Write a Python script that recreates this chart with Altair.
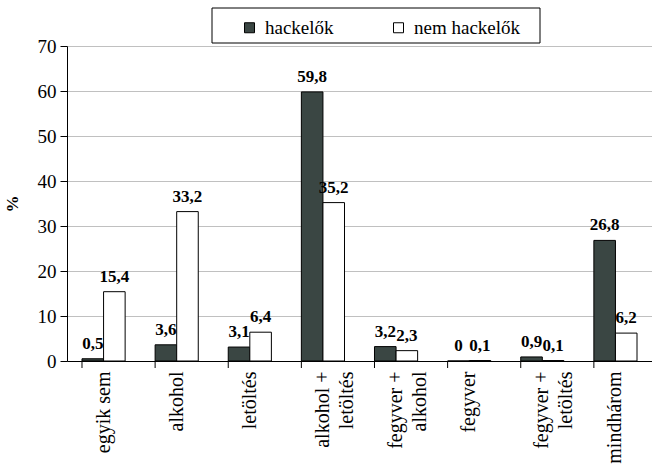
import altair as alt
import pandas as pd

# Categories (multi-line labels split on "\n")
categories = [
    "egyik sem",
    "alkohol",
    "letöltés",
    "alkohol +\nletöltés",
    "fegyver +\nalkohol",
    "fegyver",
    "fegyver +\nletöltés",
    "mindhárom",
]
series_names = ["hackelők", "nem hackelők"]
hackelok = [0.5, 3.6, 3.1, 59.8, 3.2, 0.0, 0.9, 26.8]
nem_hackelok = [15.4, 33.2, 6.4, 35.2, 2.3, 0.1, 0.1, 6.2]
y_ticks = [0, 10, 20, 30, 40, 50, 60, 70]

rows = []
for cat, a, b in zip(categories, hackelok, nem_hackelok):
    rows.append({"cat": cat, "group": series_names[0], "value": a})
    rows.append({"cat": cat, "group": series_names[1], "value": b})
df = pd.DataFrame(rows)
cat_df = pd.DataFrame({"cat": categories})

SERIF = "Liberation Serif"
DARK = "#3a4643"

x_enc = alt.X(
    "cat:N",
    sort=categories,
    scale=alt.Scale(paddingInner=0.41, paddingOuter=0.205),
    axis=alt.Axis(
        title=None,
        labelAngle=-90,
        labelAlign="right",
        labelBaseline="middle",
        labelFont=SERIF,
        labelFontSize=20,
        labelColor="black",
        labelPadding=10,
        labelExpr="split(datum.label, '\\n')",
        labelLineHeight=24,
        ticks=False,
        domainColor="black",
        domainWidth=1,
        grid=False,
    ),
)
y_enc = alt.Y(
    "value:Q",
    scale=alt.Scale(domain=[0, 70], nice=False),
    axis=alt.Axis(
        title="%",
        titleFont=SERIF,
        titleFontSize=17,
        titleFontWeight="bold",
        titleColor="black",
        titlePadding=16,
        values=y_ticks,
        labelFont=SERIF,
        labelFontSize=19,
        labelColor="black",
        labelPadding=4,
        tickColor="black",
        tickSize=7,
        domainColor="black",
        gridColor="#c0c0c0",
        gridWidth=1,
    ),
)
color_enc = alt.Color(
    "group:N",
    scale=alt.Scale(domain=series_names, range=[DARK, "white"]),
    legend=alt.Legend(
        title=None,
        orient="none",
        legendX=173,
        legendY=-28,
        direction="horizontal",
        symbolType="square",
        symbolSize=100,
        symbolStrokeColor="black",
        symbolStrokeWidth=1,
        labelFont=SERIF,
        labelFontSize=19,
        labelColor="black",
        labelOffset=6,
        columnPadding=55,
        padding=0,
    ),
)
offset_enc = alt.XOffset("group:N", sort=series_names, scale=alt.Scale(paddingInner=0, paddingOuter=0))

bars = alt.Chart(df).mark_bar(stroke="black", strokeWidth=1).encode(
    x=x_enc, y=y_enc, color=color_enc, xOffset=offset_enc
)

labels = alt.Chart(df).transform_calculate(
    label="replace(format(datum.value, '.1~f'), '.', ',')"
).mark_text(
    font=SERIF, fontSize=17, fontWeight="bold", color="black",
    baseline="alphabetic", dy=-10
).encode(
    x=alt.X("cat:N", sort=categories), y="value:Q", xOffset=offset_enc, text="label:N"
)

# category boundary ticks below the x axis
ticks = alt.Chart(cat_df).mark_rule(color="black", strokeWidth=1).encode(
    x=alt.X("cat:N", sort=categories, bandPosition=0),
    y=alt.value(315),
    y2=alt.value(322),
)

# frame around the legend
frame = alt.Chart(pd.DataFrame({"k": [0]})).mark_rect(
    fill="white", fillOpacity=0, stroke="black", strokeWidth=1
).encode(
    x=alt.value(145), x2=alt.value(473), y=alt.value(-38), y2=alt.value(-3)
)

chart = alt.layer(bars, labels, ticks, frame).properties(
    width=585,
    height=315,
    autosize=alt.AutoSizeParams(type="none"),
    padding={"left": 67, "top": 46, "right": 0, "bottom": 110},
    background="white",
).configure(font=SERIF).configure_view(stroke=None)

chart.save("out.html", embed_options={"renderer": "svg", "actions": False})
